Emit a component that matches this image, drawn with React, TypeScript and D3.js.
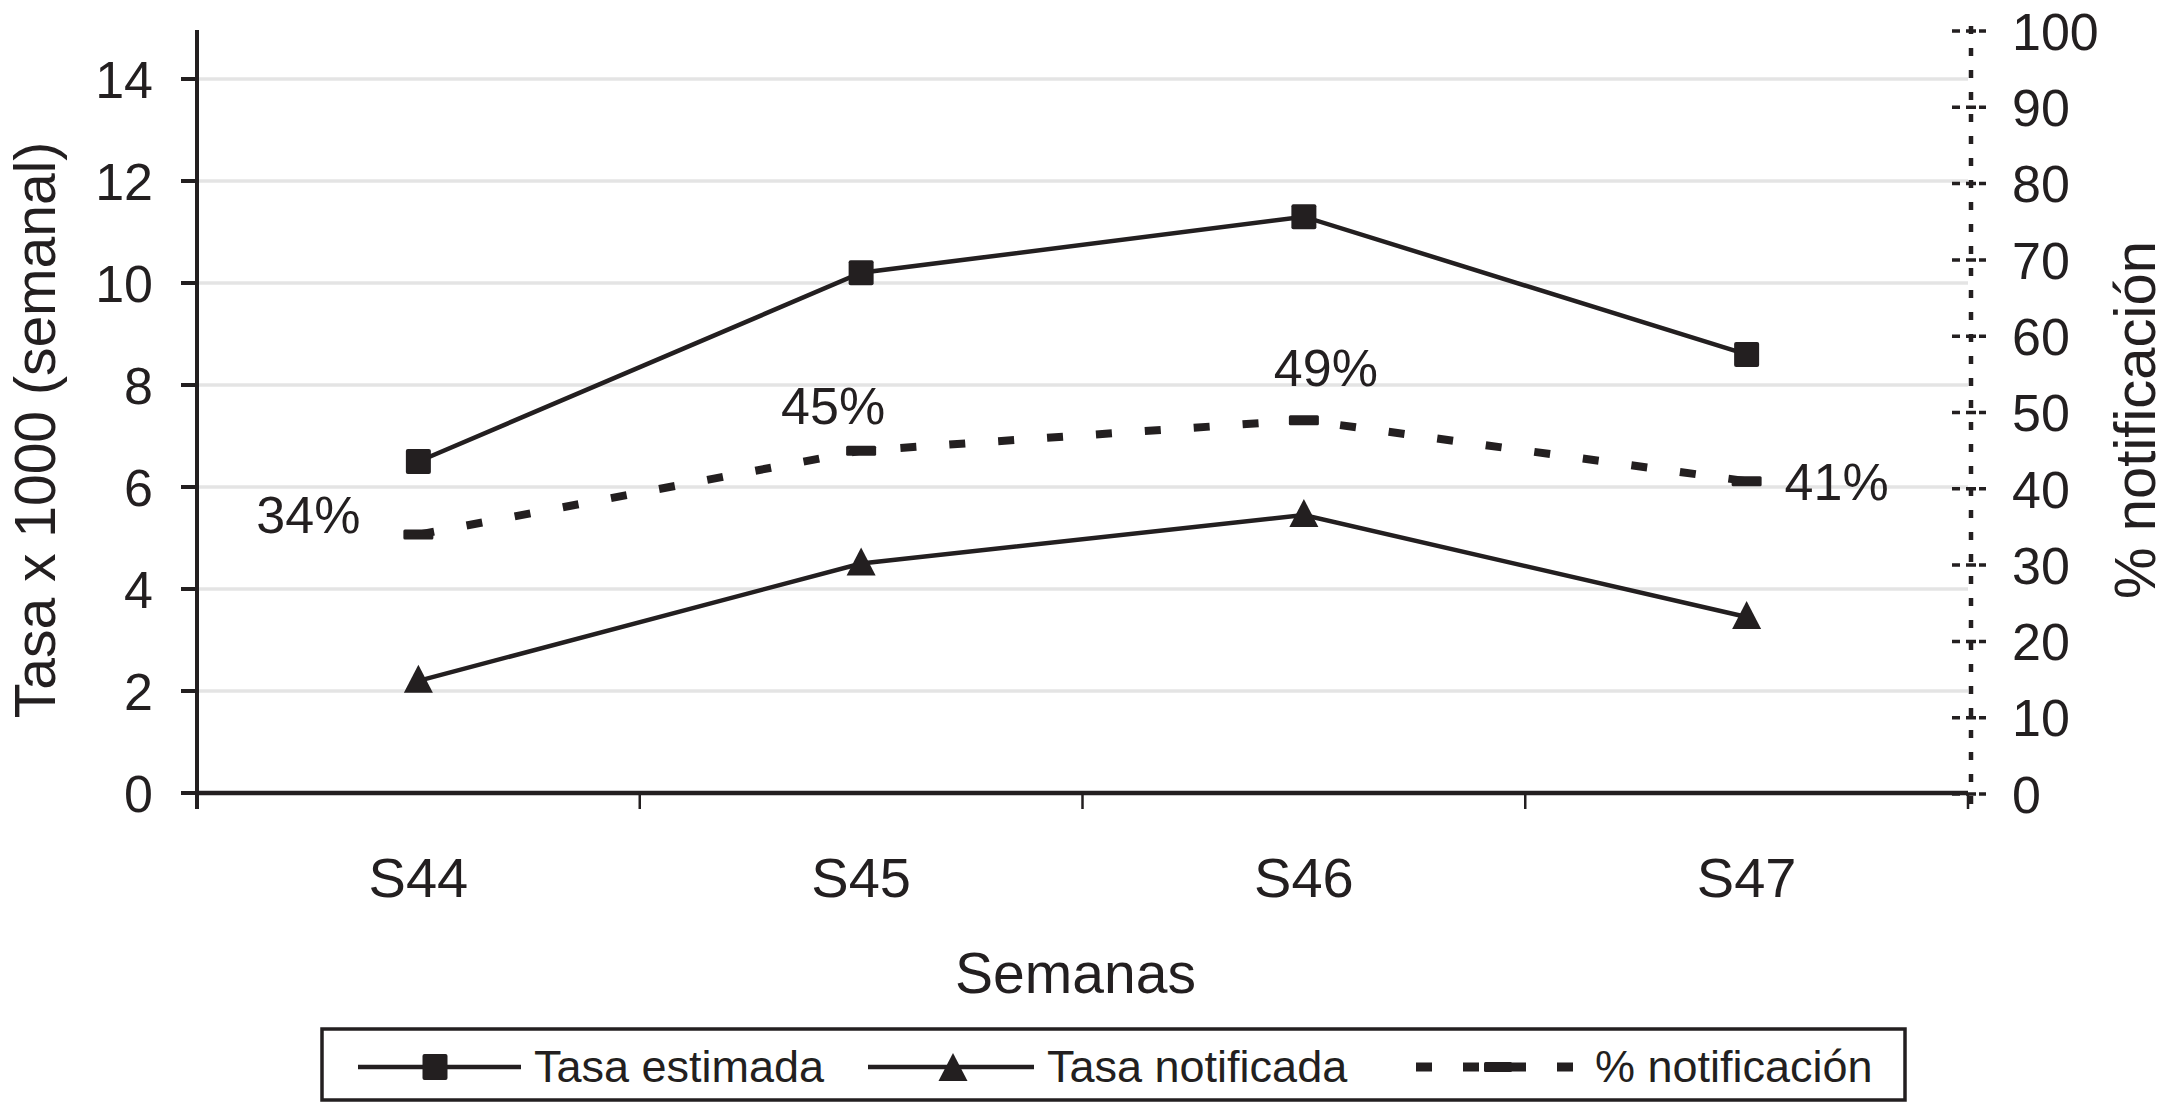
import React from 'react';
import * as d3 from 'd3';

// semanas epidemiológicas
const weeks = ['S44', 'S45', 'S46', 'S47'];
// tasa x 1000 (eje izquierdo)
const tasaEstimada = [6.5, 10.2, 11.3, 8.6];
const tasaNotificada = [2.2, 4.5, 5.45, 3.45];
// % notificación (eje derecho)
const pctNotificacion = [34, 45, 49, 41];
const pctLabels = ['34%', '45%', '49%', '41%'];

const leftTicks = [0, 2, 4, 6, 8, 10, 12, 14];
const rightTicks = [0, 10, 20, 30, 40, 50, 60, 70, 80, 90, 100];

const W = 2167;
const H = 1103;
const INK = '#231f20';
const FONT = '"Liberation Sans", Arial, Helvetica, sans-serif';

// label offsets (dx from point, dy of baseline) for the % labels
const labelOffsets = [
  [-110, -2],
  [-28, -27],
  [22, -34],
  [90, 19],
];

const plot = { left: 197, right: 1968, top: 28, bottom: 793 };

export default function App() {
  const x = d3.scaleBand<string>().domain(weeks).range([plot.left, plot.right]);
  const cx = (w: string) => (x(w) as number) + x.bandwidth() / 2;
  const yL = d3.scaleLinear().domain([0, 15]).range([plot.bottom, plot.top]);
  const yR = d3.scaleLinear().domain([0, 100]).range([plot.bottom + 1, plot.top + 3]);

  const lineL = d3
    .line<number>()
    .x((_, i) => cx(weeks[i]))
    .y((d) => yL(d));
  const lineR = d3
    .line<number>()
    .x((_, i) => cx(weeks[i]))
    .y((d) => yR(d));

  const tri = (px: number, py: number, s = 1) =>
    `M${px},${py - 16 * s}L${px + 14.5 * s},${py + 12 * s}L${px - 14.5 * s},${py + 12 * s}Z`;

  const rightX = 1971;
  const xTicks = [...weeks.map((w) => x(w) as number), plot.right].slice(1);

  return (
    <svg
      width={W}
      height={H}
      viewBox={`0 0 ${W} ${H}`}
      style={{ position: 'absolute', left: 0, top: 0, background: '#fff' }}
      fontFamily={FONT}
    >
      <rect width={W} height={H} fill="#fff" />

      {/* grid */}
      {leftTicks
        .filter((t) => t > 0)
        .map((t) => (
          <line key={'g' + t} x1={plot.left} x2={plot.right} y1={yL(t)} y2={yL(t)} stroke="#e4e4e4" strokeWidth={3.5} />
        ))}

      {/* left axis */}
      <line x1={plot.left} x2={plot.left} y1={30} y2={plot.bottom + 16} stroke={INK} strokeWidth={4} />
      {leftTicks.map((t) => (
        <g key={'l' + t}>
          <line x1={plot.left - 16} x2={plot.left} y1={yL(t)} y2={yL(t)} stroke={INK} strokeWidth={4} />
          <text x={153} y={yL(t)} dy="0.36em" textAnchor="end" fontSize={52} fill={INK}>
            {t}
          </text>
        </g>
      ))}

      {/* x axis */}
      <line x1={plot.left} x2={plot.right} y1={plot.bottom} y2={plot.bottom} stroke={INK} strokeWidth={4.5} />
      {xTicks.map((t, i) => (
        <line key={'xt' + i} x1={t} x2={t} y1={plot.bottom} y2={plot.bottom + 16} stroke={INK} strokeWidth={2.5} />
      ))}
      {weeks.map((w) => (
        <text key={w} x={cx(w)} y={897} textAnchor="middle" fontSize={56} fill={INK}>
          {w}
        </text>
      ))}
      <text x={(plot.left + plot.right) / 2 - 7} y={993} textAnchor="middle" fontSize={57} fill={INK}>
        Semanas
      </text>

      {/* right axis (dotted) */}
      <line
        x1={rightX}
        x2={rightX}
        y1={26}
        y2={plot.bottom + 16}
        stroke={INK}
        strokeWidth={4.5}
        strokeDasharray="8,14"
      />
      {rightTicks.map((t) => (
        <g key={'r' + t}>
          <line
            x1={rightX - 19}
            x2={rightX + 15}
            y1={yR(t)}
            y2={yR(t)}
            stroke={INK}
            strokeWidth={3.5}
            strokeDasharray="8,6,10,3,8"
          />
          <text x={2012} y={yR(t)} dy="0.36em" textAnchor="start" fontSize={52} fill={INK}>
            {t}
          </text>
        </g>
      ))}

      {/* axis titles */}
      <text
        transform={`translate(55,${430}) rotate(-90)`}
        textAnchor="middle"
        fontSize={57}
        fill={INK}
      >
        Tasa x 1000 (semanal)
      </text>
      <text
        transform={`translate(2155,${420}) rotate(-90)`}
        textAnchor="middle"
        fontSize={58}
        fill={INK}
      >
        % notificación
      </text>

      {/* series */}
      <path d={lineL(tasaEstimada) || ''} fill="none" stroke={INK} strokeWidth={4.5} />
      <path d={lineL(tasaNotificada) || ''} fill="none" stroke={INK} strokeWidth={4.5} />
      <path
        d={lineR(pctNotificacion) || ''}
        fill="none"
        stroke={INK}
        strokeWidth={8}
        strokeDasharray="16,33"
      />

      {tasaEstimada.map((v, i) => (
        <rect key={'sq' + i} x={cx(weeks[i]) - 12.5} y={yL(v) - 12.5} width={25} height={25} rx={2} fill={INK} />
      ))}
      {tasaNotificada.map((v, i) => (
        <path key={'tr' + i} d={tri(cx(weeks[i]), yL(v))} fill={INK} />
      ))}
      {pctNotificacion.map((v, i) => (
        <rect key={'ds' + i} x={cx(weeks[i]) - 15} y={yR(v) - 5} width={30} height={10} rx={1.5} fill={INK} />
      ))}
      {pctNotificacion.map((v, i) => (
        <text
          key={'pl' + i}
          x={cx(weeks[i]) + labelOffsets[i][0]}
          y={yR(v) + labelOffsets[i][1]}
          textAnchor="middle"
          fontSize={52}
          fill={INK}
        >
          {pctLabels[i]}
        </text>
      ))}

      {/* legend */}
      <rect x={322} y={1029} width={1583} height={71} fill="none" stroke={INK} strokeWidth={3.5} />
      <line x1={358} x2={521} y1={1067} y2={1067} stroke={INK} strokeWidth={4.5} />
      <rect x={435 - 12.5} y={1067 - 13} width={25} height={26} rx={2} fill={INK} />
      <text x={534} y={1082} fontSize={45} fill={INK}>
        Tasa estimada
      </text>
      <line x1={868} x2={1034} y1={1067} y2={1067} stroke={INK} strokeWidth={4.5} />
      <path d={tri(953, 1069)} fill={INK} />
      <text x={1047} y={1082} fontSize={45} fill={INK}>
        Tasa notificada
      </text>
      <line x1={1416} x2={1580} y1={1067} y2={1067} stroke={INK} strokeWidth={9} strokeDasharray="16,31" />
      <rect x={1484} y={1062} width={28} height={10} rx={1.5} fill={INK} />
      <text x={1595} y={1082} fontSize={45} fill={INK}>
        % notificación
      </text>
    </svg>
  );
}
